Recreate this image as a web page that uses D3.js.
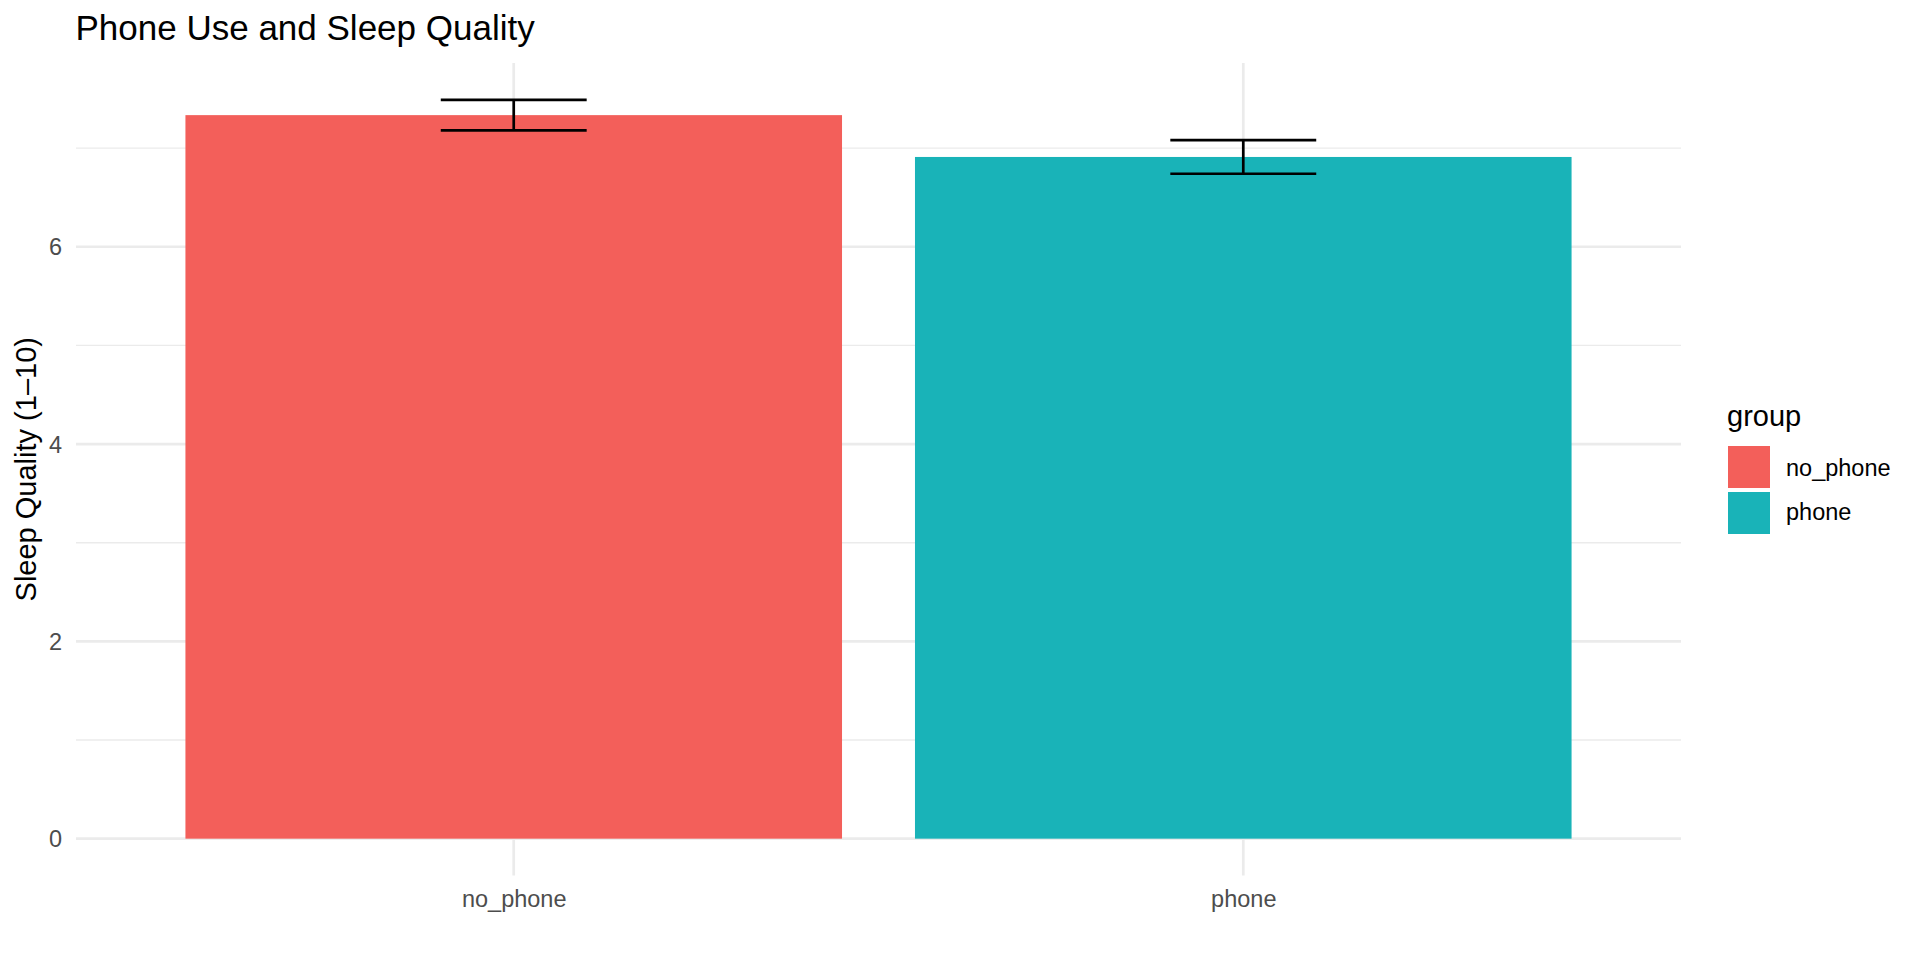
<!DOCTYPE html>
<html>
<head>
<meta charset="utf-8">
<script src="https://cdn.jsdelivr.net/npm/d3@7"></script>
<style>
  html, body { margin: 0; padding: 0; background: #fff; }
  svg { display: block; font-family: "Liberation Sans", Arial, Helvetica, sans-serif; }
</style>
</head>
<body>
<svg id="chart" width="1920" height="960"></svg>
<script>
// ---- data ----
const groups = ["no_phone", "phone"];
const means = [7.334, 6.91];
const errors = [0.155, 0.17];
const colors = ["#F35F5A", "#19B3B8"];
const yMajorTicks = [0, 2, 4, 6];
const yMinorTicks = [1, 3, 5, 7];
const titleText = "Phone Use and Sleep Quality";
const yTitle = "Sleep Quality (1\u201310)";
const legendTitle = "group";

// ---- layout ----
const W = 1920, H = 960;
const panel = { left: 76, right: 1681, top: 62.9, bottom: 875.6 };

const svg = d3.select("#chart");

const data = groups.map((g, i) => ({ g, m: means[i], e: errors[i], c: colors[i] }));
const ymax = d3.max(data, d => d.m + d.e);
const ymin = 0;
const pad = (ymax - ymin) * 0.05;

const y = d3.scaleLinear()
  .domain([ymin - pad, ymax + pad])
  .range([panel.bottom, panel.top]);

const x = d3.scalePoint()
  .domain(groups)
  .range([panel.left, panel.right])
  .padding(0.6);
const step = x.step();

// ---- gridlines ----
const grid = svg.append("g");
grid.selectAll("line.minor").data(yMinorTicks).join("line")
  .attr("x1", panel.left).attr("x2", panel.right)
  .attr("y1", d => y(d)).attr("y2", d => y(d))
  .attr("stroke", "#EBEBEB").attr("stroke-width", 1.4);
grid.selectAll("line.major").data(yMajorTicks).join("line")
  .attr("x1", panel.left).attr("x2", panel.right)
  .attr("y1", d => y(d)).attr("y2", d => y(d))
  .attr("stroke", "#EBEBEB").attr("stroke-width", 2.7);
grid.selectAll("line.vx").data(groups).join("line")
  .attr("x1", d => x(d)).attr("x2", d => x(d))
  .attr("y1", panel.top).attr("y2", panel.bottom)
  .attr("stroke", "#EBEBEB").attr("stroke-width", 2.7);

// ---- bars ----
const barW = step * 0.9;
svg.append("g").selectAll("rect").data(data).join("rect")
  .attr("x", d => x(d.g) - barW / 2)
  .attr("width", barW)
  .attr("y", d => y(d.m))
  .attr("height", d => y(0) - y(d.m))
  .attr("fill", d => d.c);

// ---- error bars ----
const ebW = step * 0.2;
const eb = svg.append("g").attr("stroke", "#000").attr("stroke-width", 2.7).attr("fill", "none");
data.forEach(d => {
  const cx = x(d.g);
  eb.append("line").attr("x1", cx).attr("x2", cx).attr("y1", y(d.m - d.e)).attr("y2", y(d.m + d.e));
  eb.append("line").attr("x1", cx - ebW / 2).attr("x2", cx + ebW / 2).attr("y1", y(d.m + d.e)).attr("y2", y(d.m + d.e));
  eb.append("line").attr("x1", cx - ebW / 2).attr("x2", cx + ebW / 2).attr("y1", y(d.m - d.e)).attr("y2", y(d.m - d.e));
});

// ---- axes (labels only) ----
const yAxis = svg.append("g")
  .attr("transform", `translate(${panel.left - 14},0)`)
  .call(d3.axisLeft(y).tickValues(yMajorTicks).tickSize(0).tickPadding(0).tickFormat(d3.format("d")));
yAxis.select(".domain").remove();
yAxis.selectAll("text")
  .attr("font-size", 23.5)
  .attr("fill", "#4D4D4D")
  .attr("dy", "0.35em")
  .style("font-family", "'Liberation Sans', Arial, Helvetica, sans-serif");

const xAxis = svg.append("g")
  .attr("transform", `translate(0,${panel.bottom})`)
  .call(d3.axisBottom(x).tickSize(0).tickPadding(0));
xAxis.select(".domain").remove();
xAxis.selectAll("text")
  .attr("font-size", 23.5)
  .attr("fill", "#4D4D4D")
  .attr("y", 31)
  .attr("dy", 0)
  .style("font-family", "'Liberation Sans', Arial, Helvetica, sans-serif");

// ---- titles ----
svg.append("text")
  .attr("x", 75.5).attr("y", 40)
  .attr("font-size", 35)
  .attr("fill", "#000")
  .text(titleText);

svg.append("text")
  .attr("transform", `translate(36,${(panel.top + panel.bottom) / 2}) rotate(-90)`)
  .attr("text-anchor", "middle")
  .attr("font-size", 29)
  .attr("fill", "#000")
  .text(yTitle);

// ---- legend ----
const lg = svg.append("g");
lg.append("text")
  .attr("x", 1727).attr("y", 426)
  .attr("font-size", 29)
  .attr("fill", "#000")
  .text(legendTitle);
const keySize = 42, keyGap = 46;
lg.selectAll("rect").data(data).join("rect")
  .attr("x", 1728)
  .attr("y", (d, i) => 446 + i * keyGap)
  .attr("width", keySize).attr("height", keySize)
  .attr("fill", d => d.c);
lg.selectAll("text.lab").data(data).join("text")
  .attr("class", "lab")
  .attr("x", 1786)
  .attr("y", (d, i) => 476 + i * 44)
  .attr("font-size", 23.5)
  .attr("fill", "#000")
  .text(d => d.g);
</script>
</body>
</html>
